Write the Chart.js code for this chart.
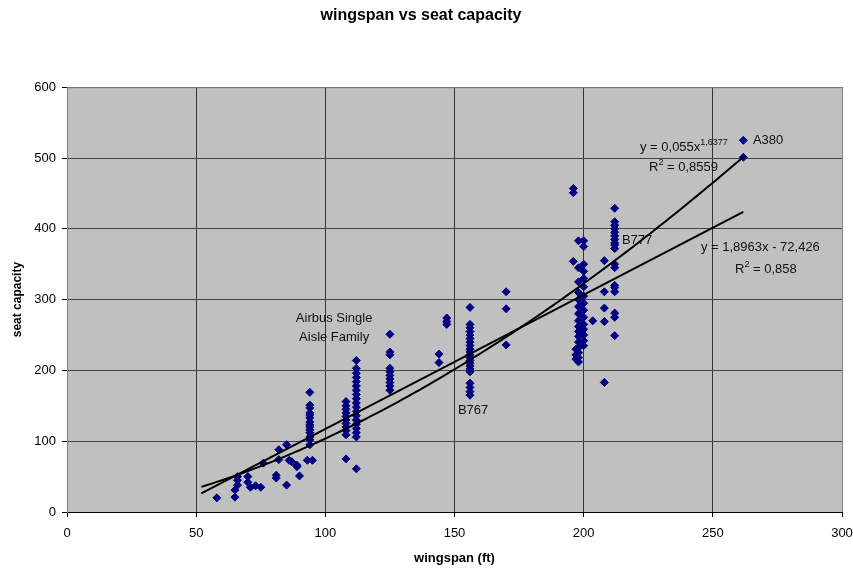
<!DOCTYPE html>
<html>
<head>
<meta charset="utf-8">
<script src="https://cdn.jsdelivr.net/npm/chart.js@4.4.0/dist/chart.umd.min.js"></script>
<style>
  html, body { margin: 0; padding: 0; background: #fff; overflow: hidden; }
  #wrap { width: 853px; height: 571px; }
</style>
</head>
<body>
<div id="wrap"><canvas id="wingspanChart"></canvas></div>
<script>
// wingspan (ft) and seats, one entry per aircraft config
const wingspan = [
  58, 65, 65, 66, 66, 66, 70, 70, 71, 73, 75, 76, 81, 81, 82, 82, 85, 85, 86, 87, 89, 89, 90, 93, 95,
  94, 94, 94, 94, 94, 94, 94, 94, 94, 94, 94, 94, 94, 94,
  108, 108, 108, 108, 108, 108, 108, 108, 108, 108, 108,
  112, 112, 112, 112, 112, 112, 112, 112, 112, 112, 112, 112, 112, 112, 112, 112, 112, 112, 112,
  125, 125, 125, 125, 125, 125, 125, 125, 125, 125,
  144, 144, 147, 147, 147,
  156, 156, 156, 156, 156, 156, 156, 156, 156, 156, 156, 156, 156, 156, 156, 156, 156, 156, 156, 156, 156,
  170, 170, 170,
  196, 196, 196,
  197, 197, 197,
  198, 198, 198, 198, 198, 198, 198, 198, 198, 198, 198, 198, 198, 198, 198, 198,
  200, 200, 200, 200, 200, 200, 200, 200, 200, 200, 200, 200, 200, 200, 200,
  203.5,
  208, 208, 208, 208, 208,
  212, 212, 212, 212, 212, 212, 212, 212, 212, 212, 212, 212, 212, 212, 212, 212, 212, 212,
  261.8, 261.8
];
const seats = [
  20, 21, 31, 38, 45, 50, 50, 42, 35, 37, 35, 69, 52, 48, 88, 74, 95, 38, 73, 71, 66, 64, 51, 73, 73,
  95, 102, 106, 112, 116, 120, 123, 127, 133, 137, 140, 147, 151, 169,
  75, 109, 115, 120, 125, 130, 135, 140, 145, 150, 156,
  61, 106, 112, 118, 124, 130, 136, 142, 148, 154, 160, 166, 172, 178, 184, 190, 196, 203, 214,
  172, 178, 183, 188, 193, 198, 203, 222, 226, 251,
  211, 223, 265, 269, 274,
  165, 170, 176, 182, 198, 202, 206, 210, 214, 218, 222, 226, 230, 235, 240, 245, 250, 255, 260, 265, 289,
  236, 287, 311,
  354, 451, 457,
  216, 222, 230,
  212, 218, 225, 232, 240, 248, 255, 262, 270, 280, 290, 300, 310, 325, 345, 383,
  235, 242, 250, 258, 265, 275, 285, 295, 305, 318, 330, 340, 350, 375, 383,
  270,
  183, 269, 288, 311, 355,
  249, 275, 281, 311, 317, 320, 345, 350, 372, 377, 380, 385, 390, 395, 400, 405, 410, 429,
  501, 525
];

// trendlines as printed on the chart
const powerCoef = 0.055;
const powerExp = 1.6377;
const linSlope = 1.8963;
const linIntercept = -72.426;
const trendStart = 52;
const trendEnd = 261.8;

// text labels placed in data units
const notes = [
  { x: 103.4, y: 274, align: 'center', text: 'Airbus Single' },
  { x: 103.4, y: 247, align: 'center', text: 'Aisle Family' },
  { x: 157.2, y: 144, align: 'center', text: 'B767' },
  { x: 214.8, y: 383, align: 'left', text: 'B777' },
  { x: 265.5, y: 525, align: 'left', text: 'A380' },
  { x: 221.8, y: 515, align: 'left', text: 'y = 0,055x', sup: '1,6377' },
  { x: 225.3, y: 487, align: 'left', text: 'R', sup: '2', after: ' = 0,8559' },
  { x: 245.4, y: 373, align: 'left', text: 'y = 1,8963x - 72,426' },
  { x: 258.6, y: 342, align: 'left', text: 'R', sup: '2', after: ' = 0,858' }
];

const FONT = "'Liberation Sans', Arial, sans-serif";

const points = wingspan.map((w, i) => ({ x: w, y: seats[i] }));

const powerLine = [];
const linearLine = [];
for (let x = trendStart; x <= trendEnd + 0.001; x += 2) {
  powerLine.push({ x: x, y: powerCoef * Math.pow(x, powerExp) });
}
powerLine.push({ x: trendEnd, y: powerCoef * Math.pow(trendEnd, powerExp) });
linearLine.push({ x: trendStart, y: linSlope * trendStart + linIntercept });
linearLine.push({ x: trendEnd, y: linSlope * trendEnd + linIntercept });

const plotBackground = {
  id: 'plotBackground',
  beforeDraw(chart) {
    const { ctx, chartArea: a } = chart;
    ctx.save();
    ctx.fillStyle = '#c0c0c0';
    ctx.fillRect(a.left, a.top, a.width, a.height);
    ctx.restore();
  },
  afterDraw(chart) {
    const { ctx, chartArea: a } = chart;
    ctx.save();
    ctx.strokeStyle = '#808080';
    ctx.lineWidth = 1;
    ctx.beginPath();
    ctx.moveTo(a.left, a.top + 0.5);
    ctx.lineTo(a.right + 0.5, a.top + 0.5);
    ctx.lineTo(a.right + 0.5, a.bottom);
    ctx.stroke();
    ctx.restore();
  }
};

const chartNotes = {
  id: 'chartNotes',
  afterDatasetsDraw(chart) {
    const { ctx, scales } = chart;
    ctx.save();
    ctx.fillStyle = '#111';
    ctx.textBaseline = 'middle';
    ctx.textAlign = 'left';
    notes.forEach(n => {
      const px = scales.x.getPixelForValue(n.x);
      const py = scales.y.getPixelForValue(n.y);
      const mainFont = '13px ' + FONT;
      const supFont = '9px ' + FONT;
      ctx.font = mainFont;
      const w1 = ctx.measureText(n.text).width;
      ctx.font = supFont;
      const w2 = n.sup ? ctx.measureText(n.sup).width : 0;
      ctx.font = mainFont;
      const w3 = n.after ? ctx.measureText(n.after).width : 0;
      let x0 = n.align === 'center' ? px - (w1 + w2 + w3) / 2 : px;
      ctx.fillText(n.text, x0, py);
      if (n.sup) {
        ctx.font = supFont;
        ctx.fillText(n.sup, x0 + w1, py - 5);
        ctx.font = mainFont;
      }
      if (n.after) ctx.fillText(n.after, x0 + w1 + w2, py);
    });
    ctx.restore();
  }
};

new Chart(document.getElementById('wingspanChart'), {
  type: 'scatter',
  data: {
    datasets: [
      {
        type: 'line',
        label: 'Power trend',
        data: powerLine,
        borderColor: '#000',
        borderWidth: 2,
        pointRadius: 0,
        tension: 0,
        fill: false,
        order: 0
      },
      {
        type: 'line',
        label: 'Linear trend',
        data: linearLine,
        borderColor: '#000',
        borderWidth: 2,
        pointRadius: 0,
        tension: 0,
        fill: false,
        order: 0
      },
      {
        label: 'seat capacity',
        data: points,
        pointStyle: 'rectRot',
        pointRadius: 4,
        backgroundColor: '#000080',
        borderColor: '#000080',
        borderWidth: 1,
        order: 1
      }
    ]
  },
  options: {
    responsive: true,
    maintainAspectRatio: false,
    animation: false,
    layout: { padding: { left: 0, right: 11, top: 0, bottom: 0 } },
    plugins: {
      legend: { display: false },
      tooltip: { enabled: false },
      title: {
        display: true,
        text: 'wingspan vs seat capacity',
        color: '#000',
        font: { family: FONT, size: 16, weight: 'bold' },
        padding: { top: 6, bottom: 62 }
      }
    },
    scales: {
      x: {
        type: 'linear',
        min: 0,
        max: 300,
        afterFit: scale => {
          scale.height = 59;
          scale.paddingLeft = 0;
          scale.paddingRight = 0;
        },
        ticks: { stepSize: 50, color: '#000', font: { family: FONT, size: 13 }, padding: 9 },
        grid: { color: '#333', tickLength: 5, tickColor: '#000' },
        border: { color: '#000', width: 1 },
        title: {
          display: true,
          text: 'wingspan (ft)',
          color: '#000',
          font: { family: FONT, size: 13, weight: 'bold' },
          padding: { top: 0, bottom: 5 }
        }
      },
      y: {
        type: 'linear',
        min: 0,
        max: 600,
        afterFit: scale => { scale.width = 67; },
        ticks: { stepSize: 100, color: '#000', font: { family: FONT, size: 13 }, padding: 6 },
        grid: { color: '#444', tickLength: 5, tickColor: '#000' },
        border: { color: '#808080', width: 1 },
        title: {
          display: true,
          text: 'seat capacity',
          color: '#000',
          font: { family: FONT, size: 12, weight: 'bold' },
          padding: { top: 10, bottom: 0 }
        }
      }
    }
  },
  plugins: [plotBackground, chartNotes]
});
</script>
</body>
</html>
